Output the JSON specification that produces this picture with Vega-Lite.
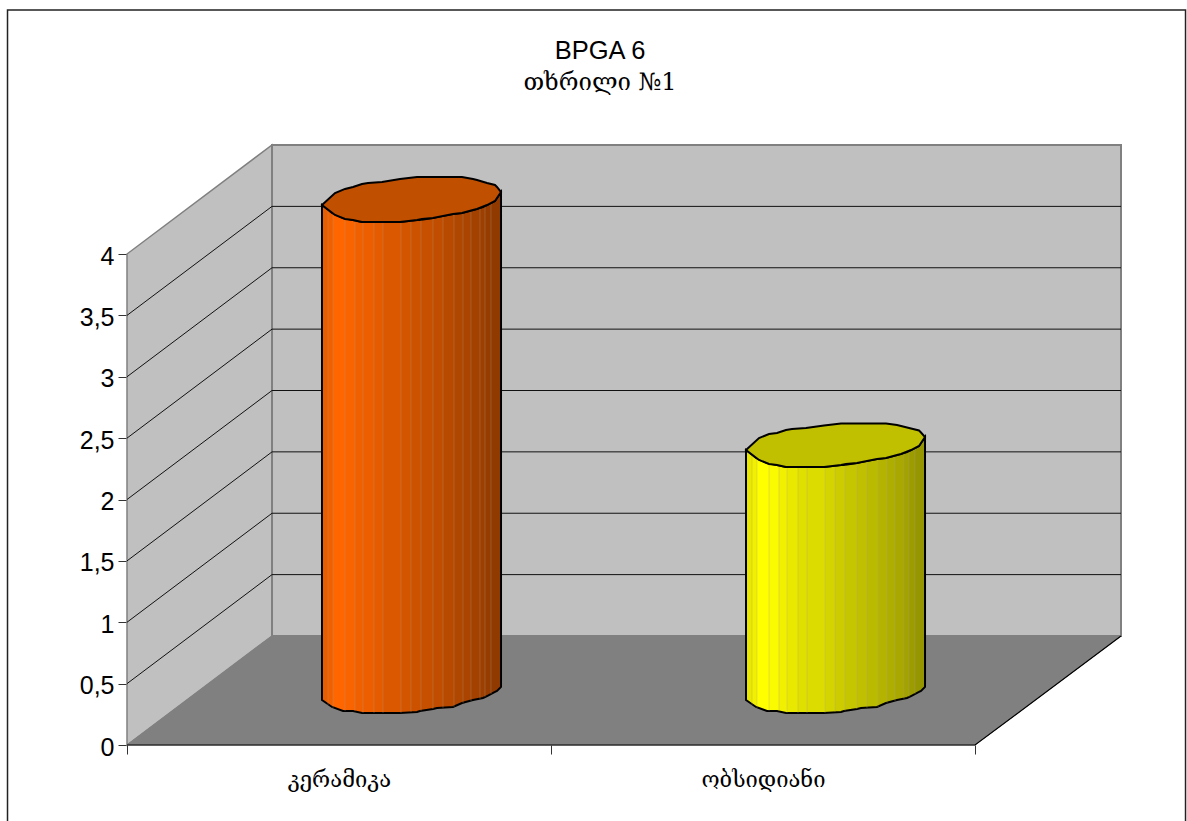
{
"$schema":"https://vega.github.io/schema/vega-lite/v6.json",
"width":994,"height":602,
"autosize":{"type":"none"},
"padding":{"left":127,"top":143,"right":66,"bottom":76},
"background":"white",
"config":{"view":{"stroke":null}},
"title":{"text":"BPGA 6","subtitle":"თხრილი №1","anchor":"middle","dx":-24,"offset":-86,"font":"Liberation Sans","fontSize":25.5,"fontWeight":"normal","color":"black","subtitleFont":"DejaVu Serif","subtitleFontSize":24,"subtitleColor":"black","subtitlePadding":7},
"datasets":{
"frame":[{"x":-0.2818,"x2":2.4965,"y":5.988,"y2":-1}],
"side":[{"x":0,"y":0,"y2":4},{"x":0.342,"y":0.888,"y2":4.888}],
"back":[{"x":0.342,"y":0.888,"y2":4.888},{"x":2.3443,"y":0.888,"y2":4.888}],
"floor":[{"x":0,"x2":2,"y":0},{"x":0.342,"x2":2.3443,"y":0.888}],
"grid":[
{"v":0.5,"x":0,"y":0.5},{"v":0.5,"x":0.342,"y":1.388},{"v":0.5,"x":2.3443,"y":1.388},
{"v":1,"x":0,"y":1},{"v":1,"x":0.342,"y":1.888},{"v":1,"x":2.3443,"y":1.888},
{"v":1.5,"x":0,"y":1.5},{"v":1.5,"x":0.342,"y":2.388},{"v":1.5,"x":2.3443,"y":2.388},
{"v":2,"x":0,"y":2},{"v":2,"x":0.342,"y":2.888},{"v":2,"x":2.3443,"y":2.888},
{"v":2.5,"x":0,"y":2.5},{"v":2.5,"x":0.342,"y":3.388},{"v":2.5,"x":2.3443,"y":3.388},
{"v":3,"x":0,"y":3},{"v":3,"x":0.342,"y":3.888},{"v":3,"x":2.3443,"y":3.888},
{"v":3.5,"x":0,"y":3.5},{"v":3.5,"x":0.342,"y":4.388},{"v":3.5,"x":2.3443,"y":4.388}],
"edge":[{"x":0,"y":0},{"x":2,"y":0},{"x":2.3443,"y":0.888}],
"bodyA":[
{"x":0.4599,"y":4.399,"y2":0.367},{"x":0.4835,"y":4.334,"y2":0.310},{"x":0.5094,"y":4.293,"y2":0.277},{"x":0.5330,"y":4.277,"y2":0.277},{"x":0.5542,"y":4.261,"y2":0.261},{"x":0.6439,"y":4.261,"y2":0.261},{"x":0.6840,"y":4.277,"y2":0.269},{"x":0.6910,"y":4.277,"y2":0.277},{"x":0.7217,"y":4.293,"y2":0.293},{"x":0.7311,"y":4.301,"y2":0.301},{"x":0.7689,"y":4.326,"y2":0.310},{"x":0.7901,"y":4.334,"y2":0.342},{"x":0.8160,"y":4.358,"y2":0.367},{"x":0.8396,"y":4.383,"y2":0.383},{"x":0.8491,"y":4.399,"y2":0.399},{"x":0.8679,"y":4.432,"y2":0.432},{"x":0.8726,"y":4.456,"y2":0.440},{"x":0.8821,"y":4.505,"y2":0.473}],
"bodyB":[
{"x":1.4599,"y":2.403,"y2":0.367},{"x":1.4835,"y":2.338,"y2":0.310},{"x":1.5094,"y":2.297,"y2":0.277},{"x":1.5330,"y":2.281,"y2":0.277},{"x":1.5542,"y":2.265,"y2":0.261},{"x":1.6439,"y":2.265,"y2":0.261},{"x":1.6840,"y":2.281,"y2":0.269},{"x":1.6910,"y":2.281,"y2":0.277},{"x":1.7217,"y":2.297,"y2":0.293},{"x":1.7311,"y":2.305,"y2":0.301},{"x":1.7689,"y":2.330,"y2":0.310},{"x":1.7901,"y":2.338,"y2":0.342},{"x":1.8160,"y":2.362,"y2":0.367},{"x":1.8396,"y":2.387,"y2":0.383},{"x":1.8491,"y":2.403,"y2":0.399},{"x":1.8679,"y":2.436,"y2":0.432},{"x":1.8726,"y":2.460,"y2":0.440},{"x":1.8821,"y":2.509,"y2":0.473}],
"seam":[
{"x":0.4741,"y":4.358,"y2":0.326},{"x":0.4858,"y":4.326,"y2":0.301},{"x":0.5142,"y":4.285,"y2":0.277},{"x":0.5377,"y":4.277,"y2":0.277},{"x":0.5566,"y":4.261,"y2":0.261},{"x":0.5825,"y":4.261,"y2":0.261},{"x":0.6038,"y":4.261,"y2":0.261},{"x":0.6462,"y":4.261,"y2":0.261},{"x":0.6698,"y":4.269,"y2":0.269},{"x":0.6934,"y":4.277,"y2":0.277},{"x":0.7217,"y":4.293,"y2":0.293},{"x":0.7453,"y":4.310,"y2":0.301},{"x":0.7712,"y":4.326,"y2":0.310},{"x":0.7925,"y":4.334,"y2":0.342},{"x":0.8113,"y":4.350,"y2":0.358},{"x":0.8325,"y":4.375,"y2":0.375},{"x":0.8443,"y":4.391,"y2":0.391},{"x":0.8585,"y":4.415,"y2":0.415},
{"x":1.4741,"y":2.362,"y2":0.326},{"x":1.4858,"y":2.330,"y2":0.301},{"x":1.5142,"y":2.289,"y2":0.277},{"x":1.5377,"y":2.281,"y2":0.277},{"x":1.5566,"y":2.265,"y2":0.261},{"x":1.5825,"y":2.265,"y2":0.261},{"x":1.6038,"y":2.265,"y2":0.261},{"x":1.6462,"y":2.265,"y2":0.261},{"x":1.6698,"y":2.273,"y2":0.269},{"x":1.6934,"y":2.281,"y2":0.277},{"x":1.7217,"y":2.297,"y2":0.293},{"x":1.7453,"y":2.314,"y2":0.301},{"x":1.7712,"y":2.330,"y2":0.310},{"x":1.7925,"y":2.338,"y2":0.342},{"x":1.8113,"y":2.354,"y2":0.358},{"x":1.8325,"y":2.379,"y2":0.375},{"x":1.8443,"y":2.395,"y2":0.391},{"x":1.8585,"y":2.419,"y2":0.415}],
"capA":[
{"x":0.4599,"y":4.399,"y2":4.399},{"x":0.4906,"y":4.497,"y2":4.318},{"x":0.5142,"y":4.530,"y2":4.285},{"x":0.5330,"y":4.546,"y2":4.277},{"x":0.5542,"y":4.570,"y2":4.261},{"x":0.5684,"y":4.578,"y2":4.261},{"x":0.6014,"y":4.587,"y2":4.261},{"x":0.6439,"y":4.611,"y2":4.261},{"x":0.6840,"y":4.627,"y2":4.277},{"x":0.6958,"y":4.627,"y2":4.285},{"x":0.7217,"y":4.627,"y2":4.293},{"x":0.7689,"y":4.627,"y2":4.326},{"x":0.7901,"y":4.627,"y2":4.334},{"x":0.8160,"y":4.611,"y2":4.358},{"x":0.8255,"y":4.603,"y2":4.367},{"x":0.8491,"y":4.578,"y2":4.399},{"x":0.8679,"y":4.562,"y2":4.432},{"x":0.8726,"y":4.546,"y2":4.456},{"x":0.8821,"y":4.505,"y2":4.505}],
"capB":[
{"x":1.4599,"y":2.403,"y2":2.403},{"x":1.4906,"y":2.501,"y2":2.322},{"x":1.5142,"y":2.534,"y2":2.289},{"x":1.5330,"y":2.542,"y2":2.281},{"x":1.5542,"y":2.566,"y2":2.265},{"x":1.5684,"y":2.574,"y2":2.265},{"x":1.6014,"y":2.583,"y2":2.265},{"x":1.6439,"y":2.603,"y2":2.265},{"x":1.6840,"y":2.619,"y2":2.281},{"x":1.6958,"y":2.619,"y2":2.289},{"x":1.7217,"y":2.619,"y2":2.297},{"x":1.7689,"y":2.619,"y2":2.330},{"x":1.7901,"y":2.619,"y2":2.338},{"x":1.8160,"y":2.607,"y2":2.362},{"x":1.8255,"y":2.599,"y2":2.371},{"x":1.8491,"y":2.578,"y2":2.403},{"x":1.8679,"y":2.562,"y2":2.436},{"x":1.8726,"y":2.546,"y2":2.460},{"x":1.8821,"y":2.509,"y2":2.509}]
},
"encoding":{
"x":{"field":"x","type":"quantitative","scale":{"domain":[0,2.3443],"nice":false,"zero":false},"axis":{"title":null,"grid":false,"domain":false,"values":[0,0.5,1,1.5,2],"tickSize":9,"tickColor":"#333333","tickOpacity":{"condition":{"test":"datum.value==0.5||datum.value==1.5","value":0},"value":1},"labelExpr":"datum.value==0.5?'კერამიკა':datum.value==1.5?'ობსიდიანი':''","labelFont":"DejaVu Serif","labelFontSize":22,"labelColor":"black","labelPadding":15,"labelFlush":false,"labelBound":false,"labelOverlap":false}},
"y":{"field":"y","type":"quantitative","scale":{"domain":[0,4.9043],"nice":false,"zero":false},"axis":{"title":null,"grid":false,"domain":false,"values":[0,0.5,1,1.5,2,2.5,3,3.5,4],"tickSize":9,"tickColor":"#333333","labelExpr":"replace(format(datum.value,'~g'),'.',',')","labelFont":"Liberation Sans","labelFontSize":25,"labelColor":"black","labelPadding":4,"labelOffset":2,"labelBound":false,"labelOverlap":false}}
},
"layer":[
{"data":{"name":"frame"},"mark":{"type":"rect","filled":false,"stroke":"#222222","strokeWidth":1.5,"clip":false},"encoding":{"x2":{"field":"x2"},"y2":{"field":"y2"}}},
{"data":{"name":"side"},"mark":{"type":"area","fill":"#C0C0C0","stroke":"#808080","strokeWidth":1.5},"encoding":{"y2":{"field":"y2"}}},
{"data":{"name":"back"},"mark":{"type":"area","fill":"#C0C0C0","stroke":"#808080","strokeWidth":2},"encoding":{"y2":{"field":"y2"}}},
{"data":{"name":"floor"},"mark":{"type":"area","orient":"horizontal","fill":"#808080","stroke":"#808080","strokeWidth":1},"encoding":{"x2":{"field":"x2"}}},
{"data":{"name":"grid"},"mark":{"type":"line","stroke":"#111111","strokeWidth":1},"encoding":{"detail":{"field":"v"}}},
{"data":{"name":"edge"},"mark":{"type":"line","stroke":"#000000","strokeWidth":1.2}},
{"data":{"name":"bodyA"},"mark":{"type":"area","stroke":"#000000","strokeWidth":2,"fill":{"gradient":"linear","x1":0,"x2":1,"y1":0,"y2":0,"stops":[{"offset":0,"color":"#E85D00"},{"offset":0.034,"color":"#E85D00"},{"offset":0.034,"color":"#F06000"},{"offset":0.061,"color":"#F06000"},{"offset":0.061,"color":"#FF6600"},{"offset":0.128,"color":"#FF6600"},{"offset":0.128,"color":"#FA6400"},{"offset":0.184,"color":"#FA6400"},{"offset":0.184,"color":"#F06000"},{"offset":0.229,"color":"#F06000"},{"offset":0.229,"color":"#EC5E00"},{"offset":0.291,"color":"#EC5E00"},{"offset":0.291,"color":"#E45B00"},{"offset":0.341,"color":"#E45B00"},{"offset":0.341,"color":"#DC5800"},{"offset":0.441,"color":"#DC5800"},{"offset":0.441,"color":"#D45500"},{"offset":0.497,"color":"#D45500"},{"offset":0.497,"color":"#CC5200"},{"offset":0.553,"color":"#CC5200"},{"offset":0.553,"color":"#C64F00"},{"offset":0.62,"color":"#C64F00"},{"offset":0.62,"color":"#C04D00"},{"offset":0.676,"color":"#C04D00"},{"offset":0.676,"color":"#B84A00"},{"offset":0.737,"color":"#B84A00"},{"offset":0.737,"color":"#B04700"},{"offset":0.788,"color":"#B04700"},{"offset":0.788,"color":"#AA4400"},{"offset":0.832,"color":"#AA4400"},{"offset":0.832,"color":"#A34100"},{"offset":0.883,"color":"#A34100"},{"offset":0.883,"color":"#9D3F00"},{"offset":0.911,"color":"#9D3F00"},{"offset":0.911,"color":"#973C00"},{"offset":0.944,"color":"#973C00"},{"offset":0.944,"color":"#903A00"},{"offset":1,"color":"#903A00"}]}},"encoding":{"y2":{"field":"y2"}}},
{"data":{"name":"bodyB"},"mark":{"type":"area","stroke":"#000000","strokeWidth":2,"fill":{"gradient":"linear","x1":0,"x2":1,"y1":0,"y2":0,"stops":[{"offset":0,"color":"#E8E800"},{"offset":0.034,"color":"#E8E800"},{"offset":0.034,"color":"#F0F000"},{"offset":0.061,"color":"#F0F000"},{"offset":0.061,"color":"#FFFF00"},{"offset":0.128,"color":"#FFFF00"},{"offset":0.128,"color":"#FAFA00"},{"offset":0.184,"color":"#FAFA00"},{"offset":0.184,"color":"#F0F000"},{"offset":0.229,"color":"#F0F000"},{"offset":0.229,"color":"#E8E800"},{"offset":0.291,"color":"#E8E800"},{"offset":0.291,"color":"#E0E000"},{"offset":0.341,"color":"#E0E000"},{"offset":0.341,"color":"#DCDC00"},{"offset":0.441,"color":"#DCDC00"},{"offset":0.441,"color":"#D4D400"},{"offset":0.497,"color":"#D4D400"},{"offset":0.497,"color":"#CCCC00"},{"offset":0.553,"color":"#CCCC00"},{"offset":0.553,"color":"#C6C600"},{"offset":0.62,"color":"#C6C600"},{"offset":0.62,"color":"#C0C000"},{"offset":0.676,"color":"#C0C000"},{"offset":0.676,"color":"#BABA00"},{"offset":0.737,"color":"#BABA00"},{"offset":0.737,"color":"#B4B400"},{"offset":0.788,"color":"#B4B400"},{"offset":0.788,"color":"#AEAE00"},{"offset":0.832,"color":"#AEAE00"},{"offset":0.832,"color":"#A8A800"},{"offset":0.883,"color":"#A8A800"},{"offset":0.883,"color":"#A2A200"},{"offset":0.911,"color":"#A2A200"},{"offset":0.911,"color":"#9C9C00"},{"offset":0.944,"color":"#9C9C00"},{"offset":0.944,"color":"#969600"},{"offset":1,"color":"#969600"}]}},"encoding":{"y2":{"field":"y2"}}},
{"data":{"name":"seam"},"mark":{"type":"rule","stroke":"#B0A080","strokeWidth":1,"opacity":0.3},"encoding":{"y2":{"field":"y2"}}},
{"data":{"name":"capA"},"mark":{"type":"area","fill":"#C04F00","stroke":"#000000","strokeWidth":2},"encoding":{"y2":{"field":"y2"}}},
{"data":{"name":"capB"},"mark":{"type":"area","fill":"#C0C000","stroke":"#000000","strokeWidth":2},"encoding":{"y2":{"field":"y2"}}}
]
}
